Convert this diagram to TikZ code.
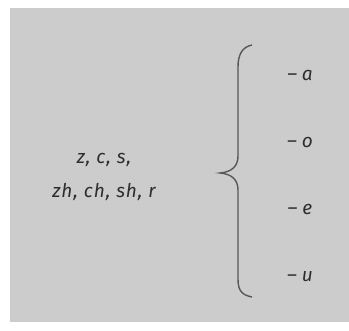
\documentclass[tikz,border=0pt]{standalone}
\usepackage{fontspec}
\setmainfont{Fira Sans}
\definecolor{panel}{RGB}{204,204,204}
\definecolor{ink}{RGB}{45,45,45}
\tikzset{
  lbl/.style={text=ink, font=\itshape\fontsize{19}{22}\selectfont, inner sep=0pt},
  initial/.style={lbl, font=\itshape\fontsize{19}{22}\selectfont\addfontfeatures{LetterSpace=5}},
}
\begin{document}
\begin{tikzpicture}[x=1pt,y=1pt]

  \useasboundingbox (0,0) rectangle (349,331);
  \fill[panel] (10,9) rectangle (349,323);

  % initials
  \node[initial] (top) at (104,171) {z, c, s,};
  \node[initial] (bot) at (104,139) {zh, ch, sh, r};

  % brace
  \draw[ink!80, line width=1.4pt] (252,286) .. controls (242,284) and (238,276) .. (238,264)
    -- (238,175) .. controls (238,165) and (232,159) .. (220,158)
    .. controls (232,157) and (238,151) .. (238,141)
    -- (238,52) .. controls (238,40) and (242,36) .. (252,34);

  % finals
  \node[lbl] (fa) at (300,255) {-- a};
  \node[lbl] (fo) at (300,188) {-- o};
  \node[lbl] (fe) at (300,121) {-- e};
  \node[lbl] (fu) at (300,54) {-- u};

\end{tikzpicture}
\end{document}
